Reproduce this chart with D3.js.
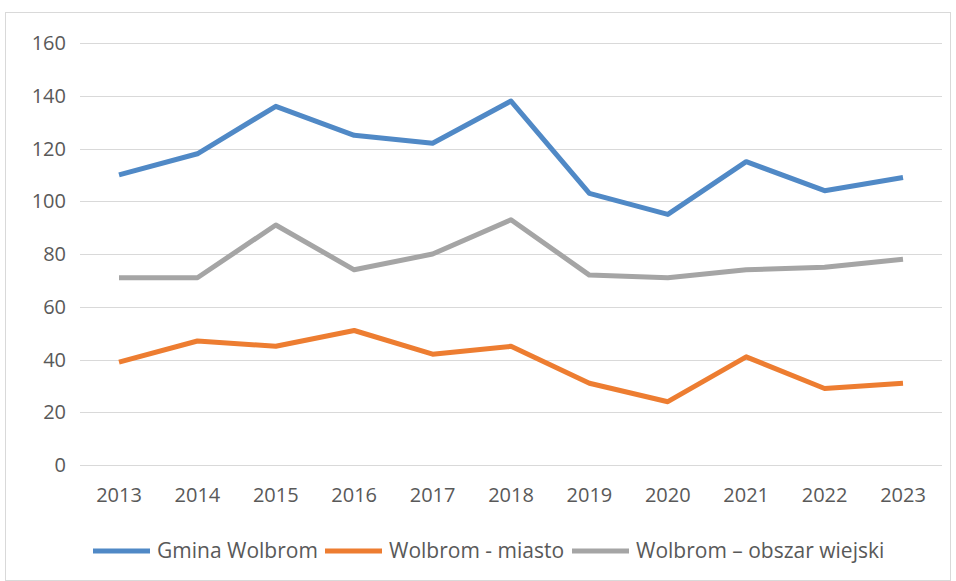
<!DOCTYPE html>
<html><head><meta charset="utf-8">
<script src="https://cdn.jsdelivr.net/npm/d3@7"></script>
<style>body{margin:0;background:#fff}svg{display:block}text{font-family:"Open Sans",sans-serif;fill:#595959}</style>
</head><body>
<script>
const years = ["2013","2014","2015","2016","2017","2018","2019","2020","2021","2022","2023"];
const gmina = [110,118,136,125,122,138,103,95,115,104,109];
const miasto = [39,47,45,51,42,45,31,24,41,29,31];
const wiejski = [71,71,91,74,80,93,72,71,74,75,78];
const seriesNames = ["Gmina Wolbrom","Wolbrom - miasto","Wolbrom – obszar wiejski"];
const yTicks = [0,20,40,60,80,100,120,140,160];

const colors = ["#5089c6","#ed7d31","#a5a5a5"];
const W=956,H=581;
const svg=d3.select("body").append("svg").attr("width",W).attr("height",H);
svg.append("rect").attr("x",5.5).attr("y",12.5).attr("width",W-11).attr("height",H-13).attr("fill","#fff").attr("stroke","#d9d9d9");

const x=d3.scalePoint().domain(years).range([119,903]);
const y=d3.scaleLinear().domain([0,160]).range([465,43]);
const plotL=80, plotR=942;

svg.append("g").selectAll("line").data(yTicks).join("line")
 .attr("x1",plotL).attr("x2",plotR).attr("y1",d=>Math.round(y(d))+0.5).attr("y2",d=>Math.round(y(d))+0.5)
 .attr("stroke","#d9d9d9").attr("stroke-width",1);

svg.append("g").selectAll("text").data(yTicks).join("text")
 .attr("x",66).attr("y",d=>y(d)).attr("dy","0.35em").attr("text-anchor","end")
 .attr("font-size",20).text(d=>d);

svg.append("g").selectAll("text").data(years).join("text")
 .attr("x",d=>x(d)).attr("y",495).attr("dy","0.35em").attr("text-anchor","middle")
 .attr("font-size",20).text(d=>d);

const data=[gmina,miasto,wiejski];
const line=d3.line().x((d,i)=>x(years[i])).y(d=>y(d));
[2,1,0].forEach(k=>{
 svg.append("path").datum(data[k]).attr("d",line).attr("fill","none")
  .attr("stroke",colors[k]).attr("stroke-width",5).attr("stroke-linejoin","round").attr("stroke-linecap","butt");
});

const legX=[93,325,572];
const lg=svg.append("g");
seriesNames.forEach((n,i)=>{
 lg.append("line").attr("x1",legX[i]).attr("x2",legX[i]+57).attr("y1",551).attr("y2",551)
  .attr("stroke",colors[i]).attr("stroke-width",5);
 lg.append("text").attr("x",legX[i]+64).attr("y",551).attr("dy","0.35em").attr("font-size",21).text(n);
});
</script>
</body></html>
